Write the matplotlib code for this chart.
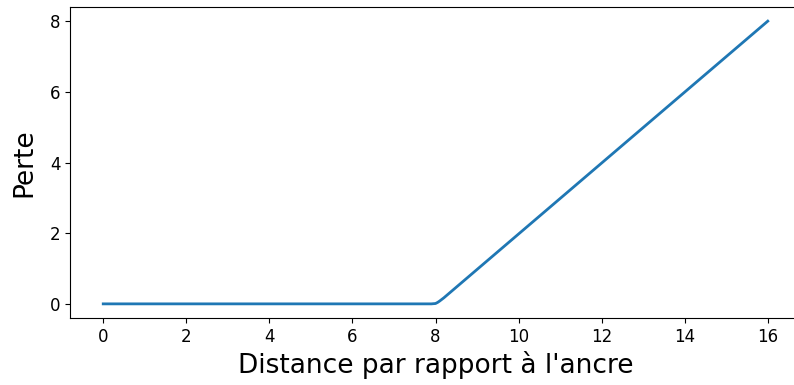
import matplotlib
matplotlib.use("Agg")
import matplotlib.pyplot as plt

distance = [0.0, 7.9, 8.0, 8.05, 8.1, 8.2, 16.0]
perte = [0.0, 0.0, 0.01, 0.04, 0.08, 0.17, 8.0]

fig = plt.figure(figsize=(7.94, 3.85), dpi=100)
ax = fig.add_axes([70/794, 1 - 318/385, (801 - 70)/794, (318 - 7)/385])
ax.plot(distance, perte, color="#1f77b4", linewidth=2)
ax.set_xticks([0, 2, 4, 6, 8, 10, 12, 14, 16])
ax.set_yticks([0, 2, 4, 6, 8])
ax.tick_params(labelsize=12)
ax.set_xlabel("Distance par rapport à l'ancre", fontsize=19, labelpad=4)
ax.set_ylabel("Perte", fontsize=19, labelpad=9)
fig.savefig("out.png", dpi=100)
